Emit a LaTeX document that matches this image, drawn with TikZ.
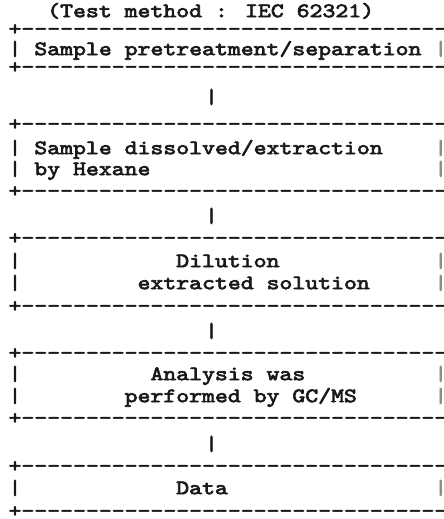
\documentclass[tikz,border=0pt]{standalone}
\usepackage{fontspec}
\newfontfamily\courfont{lmmono10-regular}[Extension=.otf,FakeStretch=1.2,FakeBold=3.2]
\begin{document}
\begin{tikzpicture}[x=1pt,y=-1pt,
  txt/.style={inner sep=0pt,outer sep=0pt,anchor=mid west,
    font=\courfont\fontsize{20.48}{20.48}\selectfont,text=black!90},
  edge/.style={txt,text=black!45},
  link/.style={txt,anchor=mid}]
\def\cw{12.9}
\def\xo{8.55}
\useasboundingbox (0,0) rectangle (444,519);
\fill[white] (0,0) rectangle (444,519);
\clip (0,0) rectangle (444,519);
\newcommand\dashrow[2]{\node[txt] (#1) at (\xo,#2) {+-----------------------------------};}
\newcommand\leftbar[2]{\node[txt] (#1) at (\xo,#2) {|};}
\newcommand\rightbar[2]{\node[edge] (#1) at ({\xo+33*\cw},#2) {|};}
% title
\node[txt] (title) at ({\xo+3*\cw},15) {(Test method : IEC 62321)};
% box 1
\dashrow{d1}{33}
\leftbar{l2}{53}
\node[txt] (t2) at ({\xo+2*\cw},53) {Sample pretreatment/separation};
\rightbar{r2}{53}
\dashrow{d3}{71}
\node[link] (c4) at (211.5,101) {|};
% box 2
\dashrow{d5}{128}
\leftbar{l6}{152}
\node[txt] (t6) at ({\xo+2*\cw},152) {Sample dissolved/extraction};
\rightbar{r6}{152}
\leftbar{l7}{173}
\node[txt] (t7) at ({\xo+2*\cw},173) {by Hexane};
\rightbar{r7}{173}
\dashrow{d8}{195}
\node[link] (c9) at (211.5,220) {|};
% box 3
\dashrow{d10}{242}
\leftbar{l11}{265}
\node[txt] (t11) at ({\xo+13*\cw},265) {Dilution};
\rightbar{r11}{265}
\leftbar{l12}{287}
\node[txt] (t12) at ({\xo+10*\cw},287) {extracted solution};
\rightbar{r12}{287}
\dashrow{d13}{310}
\node[link] (c14) at (211.5,335) {|};
% box 4
\dashrow{d15}{357}
\leftbar{l16}{378}
\node[txt] (t16) at ({\xo+11*\cw},378) {Analysis was};
\rightbar{r16}{378}
\leftbar{l17}{400}
\node[txt] (t17) at ({\xo+9*\cw},400) {performed by GC/MS};
\rightbar{r17}{400}
\dashrow{d18}{422}
\node[link] (c19) at (211.5,448) {|};
% box 5
\dashrow{d20}{470}
\leftbar{l21}{492}
\node[txt] (t21) at ({\xo+13*\cw},492) {Data};
\rightbar{r21}{492}
\dashrow{d22}{515}
\end{tikzpicture}
\end{document}
